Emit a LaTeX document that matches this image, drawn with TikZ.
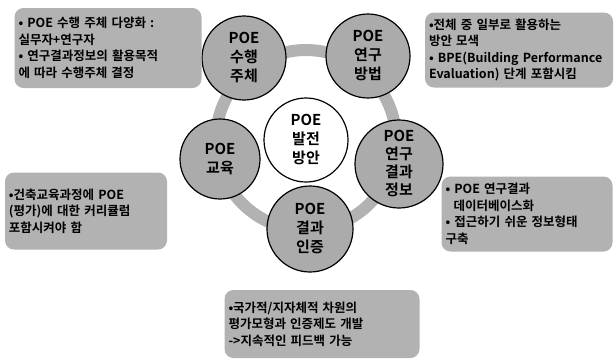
\documentclass[tikz,border=0pt]{standalone}
\usepackage{fontspec}
\setmainfont{Noto Sans CJK KR Bold}
\tikzset{
  topic/.style={circle,draw=black,line width=1.2pt,fill=black!33,minimum size=84pt,
    inner sep=0pt,align=center,font=\fontsize{15}{19}\selectfont},
  hub/.style={topic,fill=white},
  note/.style={rounded corners=9pt,fill=black!30,inner xsep=4pt,inner ysep=3pt,align=left,
    font=\fontsize{12.5}{16.5}\selectfont}
}
\begin{document}
\begin{tikzpicture}[x=1pt,y=-1pt]
  \useasboundingbox (0,0) rectangle (616,360);
  \coordinate (M) at (306,140);
  \coordinate (S) at (244,58);
  \coordinate (W) at (368,56);
  \coordinate (R) at (399,164);
  \coordinate (C) at (310,229);
  \coordinate (E) at (220,159);
  % ring behind the circles
  \draw[line width=12pt,black!30] (M) circle (90);
  \node[hub] (hub) at (M) {POE\\발전\\방안};
  \node[topic] (subj) at (S) {POE\\수행\\주체};
  \node[topic] (meth) at (W) {POE\\연구\\방법};
  \node[topic,minimum size=88pt,font=\fontsize{15}{18}\selectfont] (res) at (R) {POE\\연구\\결과\\정보};
  \node[topic,minimum size=86pt] (cert) at (C) {POE\\결과\\인증};
  \node[topic,minimum size=80pt] (edu) at (E) {POE\\교육};
  % notes
  \node[note,text width=179pt,minimum height=80pt] (nsubj) at (108,48)
    {• POE 수행 주체 다양화 :\\실무자+연구자\\• 연구결과정보의 활용목적\\에 따라 수행주체 결정};
  \node[note,text width=180pt,minimum height=75pt] (nmeth) at (519,50)
    {•전체 중 일부로 활용하는\\방안 모색\\• BPE(Building Performance\\Evaluation) 단계 포함시킴};
  \node[note,text width=154pt,minimum height=77pt] (nedu) at (86,211)
    {•건축교육과정에 POE\\(평가)에 대한 커리큘럼\\포함시켜야 함};
  \node[note,text width=163pt,minimum height=75pt] (nres) at (527,214)
    {• POE 연구결과\\\hspace*{8pt}데이터베이스화\\• 접근하기 쉬운 정보형태\\구축};
  \node[note,text width=187pt,minimum height=68pt] (ncert) at (322,324)
    {•국가적/지자체적 차원의\\평가모형과 인증제도 개발\\->지속적인 피드백 가능};
\end{tikzpicture}
\end{document}
